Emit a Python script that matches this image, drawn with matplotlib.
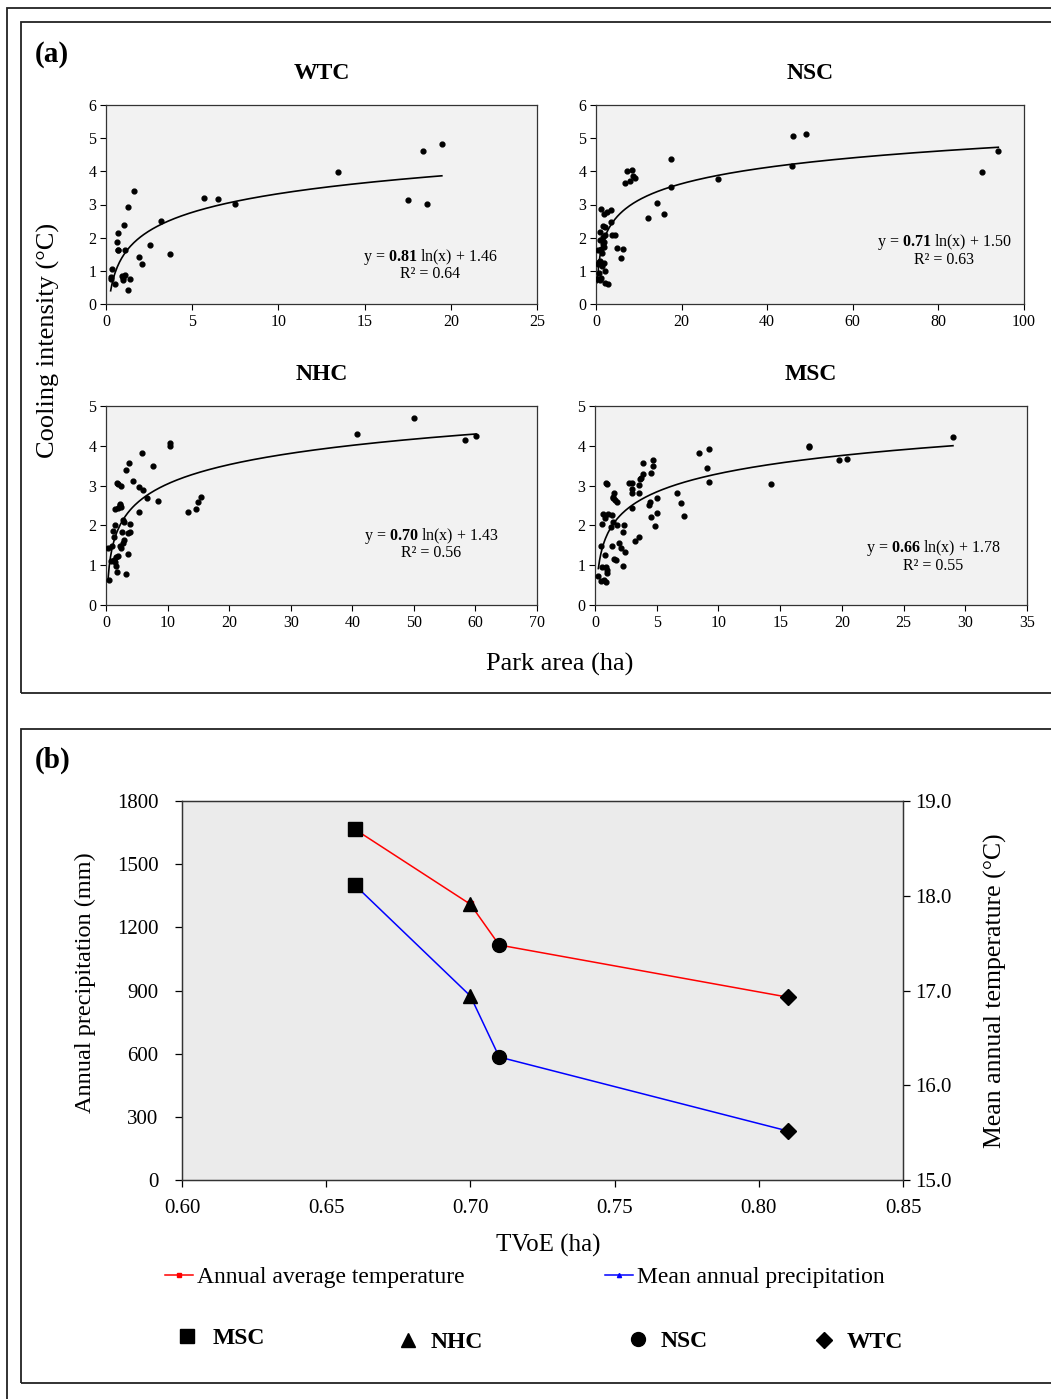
import numpy as np
import matplotlib
matplotlib.use("Agg")
import matplotlib.pyplot as plt
from matplotlib.lines import Line2D
from matplotlib.patches import Rectangle

plt.rcParams['font.family'] = ['Liberation Serif', 'DejaVu Serif']
plt.rcParams['mathtext.fontset'] = 'custom'
plt.rcParams['mathtext.rm'] = 'Liberation Serif'
plt.rcParams['mathtext.bf'] = 'Liberation Serif:bold'

# ---- panel (a): park area (ha) vs cooling intensity (°C) ----
wtc_pts = [(0.27, 0.80), (0.29, 0.75), (0.33, 1.05), (0.50, 0.60), (0.66, 1.88), (0.67, 1.63),
           (0.72, 1.62), (0.71, 2.14), (0.93, 0.84), (0.96, 0.72), (1.00, 0.77), (1.02, 2.37),
           (1.08, 1.63), (1.12, 0.87), (1.25, 2.92), (1.29, 0.42), (1.39, 0.75), (1.64, 3.42),
           (1.91, 1.43), (2.10, 1.22), (2.56, 1.79), (3.20, 2.51), (3.72, 1.50), (5.68, 3.20),
           (6.51, 3.18), (7.46, 3.02), (13.45, 3.99), (17.50, 3.14), (18.36, 4.62), (18.60, 3.02),
           (19.48, 4.82)]
nsc_pts = [(94.0, 4.60), (90.1, 3.97), (49.0, 5.13), (46.1, 5.06), (45.7, 4.15), (28.5, 3.78),
           (17.6, 4.36), (17.6, 3.52), (14.2, 3.04), (15.8, 2.72), (12.2, 2.58), (8.5, 4.05),
           (7.2, 4.00), (9.2, 3.79), (8.6, 3.85), (8.0, 3.71), (6.7, 3.65), (6.3, 1.65),
           (5.8, 1.40), (4.9, 1.70), (1.24, 2.85), (1.78, 2.70), (2.56, 2.78), (3.5, 2.83),
           (1.55, 2.34), (2.17, 2.33), (1.0, 2.17), (1.56, 2.02), (2.17, 2.07), (3.7, 2.09),
           (4.5, 2.07), (0.84, 1.92), (1.78, 1.87), (1.24, 1.67), (1.94, 1.72), (0.6, 1.27),
           (1.78, 1.24), (1.4, 1.14), (2.17, 1.00), (0.6, 0.92), (1.24, 0.77), (0.84, 0.71),
           (2.17, 0.64), (2.9, 0.59), (3.6, 2.48), (0.5, 1.62), (1.0, 1.30), (1.5, 1.55),
           (0.3, 0.75), (0.4, 1.22), (1.6, 1.80)]
nhc_pts = [(60.1, 4.25), (58.3, 4.15), (50.1, 4.71), (40.8, 4.30), (10.44, 4.06), (10.44, 4.00),
           (5.85, 3.83), (7.57, 3.49), (3.78, 3.58), (3.3, 3.38), (4.33, 3.12), (5.3, 2.97),
           (6.0, 2.89), (6.65, 2.68), (8.44, 2.62), (5.35, 2.34), (13.26, 2.33), (14.6, 2.40),
           (14.9, 2.58), (15.4, 2.72), (1.78, 3.07), (1.89, 3.03), (2.49, 3.00), (1.4, 2.41),
           (1.94, 2.43), (2.21, 2.50), (2.49, 2.45), (2.32, 2.54), (1.46, 2.01), (1.08, 1.86),
           (0.32, 1.42), (0.97, 1.49), (1.24, 1.72), (2.76, 2.14), (2.97, 2.08), (2.6, 1.83),
           (2.86, 1.63), (2.7, 1.57), (2.22, 1.48), (2.49, 1.42), (3.51, 1.80), (3.84, 1.84),
           (3.95, 2.03), (3.51, 1.27), (0.81, 1.11), (1.24, 1.13), (1.67, 1.20), (1.89, 1.23),
           (1.51, 1.09), (1.62, 0.98), (1.78, 0.84), (3.24, 0.78), (0.54, 0.63)]
msc_pts = [(29.0, 4.21), (17.3, 4.00), (17.3, 3.97), (20.4, 3.68), (19.75, 3.64), (14.25, 3.04),
           (8.45, 3.81), (9.23, 3.91), (9.04, 3.43), (9.23, 3.08), (4.72, 3.64), (4.67, 3.49),
           (3.92, 3.58), (4.53, 3.32), (3.92, 3.28), (3.64, 3.16), (3.72, 3.20), (3.59, 3.02),
           (2.97, 3.06), (2.78, 3.06), (3.02, 2.91), (2.97, 2.81), (3.59, 2.81), (4.45, 2.60),
           (4.40, 2.51), (4.99, 2.68), (4.51, 2.20), (4.99, 2.32), (4.88, 1.99), (6.67, 2.81),
           (6.94, 2.57), (7.18, 2.24), (2.97, 2.43), (0.89, 3.07), (0.99, 3.03), (1.54, 2.82),
           (1.48, 2.68), (1.62, 2.64), (1.75, 2.60), (1.43, 2.72), (0.62, 2.29), (0.78, 2.18),
           (1.08, 2.28), (1.35, 2.26), (0.54, 2.03), (1.43, 2.09), (1.81, 2.01), (2.35, 2.01),
           (2.29, 1.84), (1.27, 1.97), (0.46, 1.48), (1.35, 1.49), (1.97, 1.55), (2.11, 1.42),
           (2.43, 1.32), (1.56, 1.15), (1.70, 1.13), (2.29, 0.98), (3.24, 1.61), (3.59, 1.70),
           (0.81, 1.26), (0.90, 0.95), (0.95, 0.88), (1.00, 0.81), (0.54, 0.95), (0.27, 0.73),
           (0.49, 0.61), (0.70, 0.62), (0.86, 0.59)]

# fitted log trend: y = a ln(x) + b, R²
fits = {"WTC": (0.81, 1.46, 0.64), "NSC": (0.71, 1.50, 0.63),
        "NHC": (0.70, 1.43, 0.56), "MSC": (0.66, 1.78, 0.55)}

# ---- panel (b) ----
stations = ["MSC", "NHC", "NSC", "WTC"]
tvoe = [0.66, 0.70, 0.71, 0.81]
precip = [1400, 874, 584, 233]
temp = [18.70, 17.91, 17.48, 16.93]
station_markers = ["s", "^", "o", "D"]

W, H = 1051, 1399
fig = plt.figure(figsize=(W / 100, H / 100), dpi=100)


def fbox(l, t, r, b):
    return [l / W, 1 - b / H, (r - l) / W, (b - t) / H]


# frames
fig.add_artist(Rectangle((7 / W, -0.1), 1.2, 1 - 8 / H + 0.1, transform=fig.transFigure,
                         fill=False, lw=1.3, ec="#222222"))
fig.add_artist(Rectangle((21 / W, 1 - 693 / H), 1.2, (693 - 22) / H, transform=fig.transFigure,
                         fill=False, lw=1.3, ec="#222222"))
fig.add_artist(Rectangle((21 / W, 1 - 1383 / H), 1.2, (1383 - 729) / H, transform=fig.transFigure,
                         fill=False, lw=1.3, ec="#222222"))

panels = [
    ("WTC", wtc_pts, fbox(106, 105, 537, 304), 25, 5, 6, (0.752, 0.236, 0.151)),
    ("NSC", nsc_pts, fbox(596, 105, 1024, 304), 100, 20, 6, (0.813, 0.312, 0.221)),
    ("NHC", nhc_pts, fbox(106, 406, 537, 605), 70, 10, 5, (0.754, 0.347, 0.261)),
    ("MSC", msc_pts, fbox(595, 406, 1027, 605), 35, 5, 5, (0.782, 0.286, 0.196)),
]

for name, pts, rect, xmax, xstep, ymax, (tx, ty1, ty2) in panels:
    ax = fig.add_axes(rect)
    ax.set_facecolor("#f2f2f2")
    xs = np.array([p[0] for p in pts])
    ys = np.array([p[1] for p in pts])
    ax.scatter(xs, ys, s=12, color="black", zorder=3)
    a, b, r2 = fits[name]
    xf = np.linspace(xs.min(), xs.max(), 300)
    ax.plot(xf, a * np.log(xf) + b, color="black", lw=1.2, zorder=2)
    ax.set_xlim(0, xmax)
    ax.set_ylim(0, ymax)
    ax.set_xticks(np.arange(0, xmax + 0.1, xstep))
    ax.set_yticks(np.arange(0, ymax + 0.1, 1))
    ax.tick_params(direction="out", length=4, width=0.8, labelsize=11.5, pad=3)
    for sp in ax.spines.values():
        sp.set_linewidth(0.9)
        sp.set_color("#333333")
    ax.set_title(name, fontsize=17, fontweight="bold", pad=19)
    ax.text(tx, ty1, r"y = $\mathbf{%.2f}$ ln(x) + %.2f" % (a, b), transform=ax.transAxes,
            ha="center", va="center", fontsize=11.5)
    ax.text(tx, ty2, "R² = %.2f" % r2, transform=ax.transAxes,
            ha="center", va="center", fontsize=11.5)

fig.text(35 / W, 1 - 55 / H, "(a)", fontsize=21, fontweight="bold", ha="left", va="center")
fig.text(48 / W, 1 - 340 / H, "Cooling intensity (°C)", fontsize=19, rotation=90,
         ha="center", va="center")
fig.text(560 / W, 1 - 664 / H, "Park area (ha)", fontsize=19, ha="center", va="center")

# ---- panel (b) ----
fig.text(35 / W, 1 - 760 / H, "(b)", fontsize=21, fontweight="bold", ha="left", va="center")
axb = fig.add_axes(fbox(182, 801, 903, 1180))
axb.set_facecolor("#ebebeb")
axt = axb.twinx()

axb.plot(tvoe, precip, color="#0000ff", lw=1.1, marker="^", ms=4, zorder=2)
axt.plot(tvoe, temp, color="#ff0000", lw=1.1, marker="s", ms=4, zorder=2)
for xv, pv, tv, mk in zip(tvoe, precip, temp, station_markers):
    axb.plot(xv, pv, marker=mk, ms=10 if mk != "D" else 8.5, color="black", ls="none", zorder=4)
    axt.plot(xv, tv, marker=mk, ms=10 if mk != "D" else 8.5, color="black", ls="none", zorder=4)

axb.set_xlim(0.60, 0.85)
axb.set_ylim(0, 1800)
axt.set_ylim(15.0, 19.0)
axb.set_xticks(np.arange(0.60, 0.851, 0.05))
axb.set_xticklabels(["%.2f" % v for v in np.arange(0.60, 0.851, 0.05)])
axb.set_yticks(np.arange(0, 1801, 300))
axt.set_yticks(np.arange(15.0, 19.01, 1.0))
axt.set_yticklabels(["%.1f" % v for v in np.arange(15.0, 19.01, 1.0)])
for a_ in (axb, axt):
    a_.tick_params(direction="out", length=5, width=0.9, labelsize=15)
    for sp in a_.spines.values():
        sp.set_linewidth(0.9)
        sp.set_color("#333333")
axb.tick_params(axis="y", pad=12)
axb.tick_params(axis="x", pad=9)
axt.tick_params(axis="y", pad=4)

fig.text(85 / W, 1 - 983 / H, "Annual precipitation (mm)", fontsize=17.5, rotation=90,
         ha="center", va="center")
fig.text(995 / W, 1 - 991 / H, "Mean annual temperature (°C)", fontsize=18.5, rotation=90,
         ha="center", va="center")
fig.text(548 / W, 1 - 1245 / H, "TVoE (ha)", fontsize=18, ha="center", va="center")

h1 = [Line2D([], [], color="#ff0000", lw=1.1, marker="s", ms=3),
      Line2D([], [], color="#0000ff", lw=1.1, marker="^", ms=3)]
fig.legend(h1, ["Annual average temperature", "Mean annual precipitation"], ncol=2,
           loc="center left", bbox_to_anchor=(165 / W, 1 - 1277 / H), frameon=False,
           fontsize=17, handlelength=1.2, handletextpad=0.15, columnspacing=5.95,
           borderpad=0, borderaxespad=0)

# station key: one entry per symbol, placed along the bottom row
key_x = [175, 396, 626, 812]
key_y = [1338, 1342, 1341, 1342]
for st, mk, kx, ky in zip(stations, station_markers, key_x, key_y):
    hd = Line2D([], [], color="black", ls="none", marker=mk, ms=10 if mk != "D" else 8.5)
    fig.legend([hd], [st], loc="center left", bbox_to_anchor=(kx / W, 1 - ky / H),
               frameon=False, prop={"size": 17, "weight": "bold"}, handlelength=1.0,
               handletextpad=0.45 if mk != "s" else 0.6, borderpad=0, borderaxespad=0)

fig.savefig("out.png", dpi=100)
